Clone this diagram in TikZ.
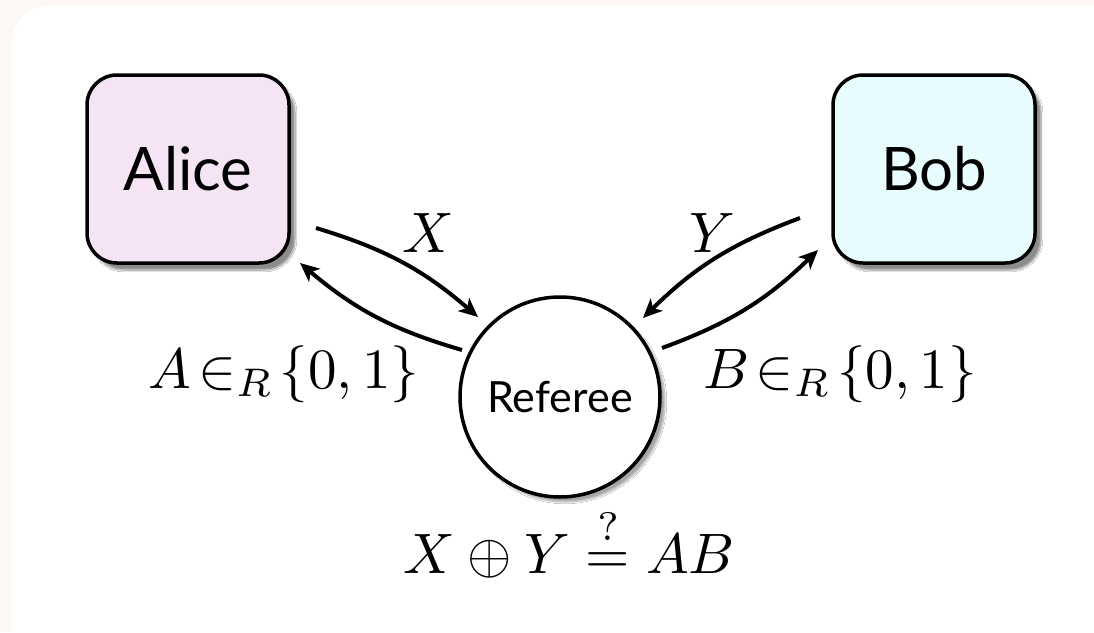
\documentclass[tikz,border=0pt]{standalone}
\usepackage{fontspec}
\newfontfamily\gill{Lato}
\usetikzlibrary{arrows.meta,shadows.blur}
\definecolor{alicefill}{HTML}{F5E4F4}
\definecolor{bobfill}{HTML}{E8FBFD}
\definecolor{outerbg}{HTML}{FDF7F6}
\begin{document}
\begin{tikzpicture}[x=1pt,y=-1pt,
  player/.style={draw=black, line width=3.5pt, rounded corners=30pt,
    minimum width=202pt, minimum height=188pt, inner sep=0pt,
    font=\gill\fontsize{60}{60}\selectfont,
    blur shadow={shadow xshift=6pt, shadow yshift=-7pt, shadow blur steps=8, shadow opacity=45}},
  ref/.style={draw=black, line width=3.5pt, circle, fill=white, minimum size=200pt, inner sep=0pt,
    font=\gill\fontsize{43}{43}\selectfont,
    blur shadow={shadow xshift=5pt, shadow yshift=-5pt, shadow blur steps=8, shadow opacity=35}},
  conn/.style={line width=4pt, -{Stealth[length=19pt,width=17pt,inset=5pt]}},
  lab/.style={scale=5.7, anchor=base, inner sep=0pt}
]
\useasboundingbox (0,0) rectangle (1094,632);
\fill[outerbg] (0,0) rectangle (1094,632);
\fill[white, rounded corners=38pt] (12,5) rectangle (1140,680);

\node[player, fill=alicefill] (alice) at (188,169) {Alice};
\node[player, fill=bobfill] (bob) at (934,169) {Bob};
\node[ref] (referee) at (560,397) {Referee};

\coordinate (xs) at (316,228);
\coordinate (xe) at (478,317);
\coordinate (as) at (462,350);
\coordinate (ae) at (300,263);
\coordinate (ys) at (800,218);
\coordinate (ye) at (643,318);
\coordinate (bs) at (662,348);
\coordinate (be) at (818,250);

\draw[conn] (xs) to[bend left=12] (xe);
\draw[conn] (as) to[bend left=12] (ae);
\draw[conn] (ys) to[bend right=12] (ye);
\draw[conn] (bs) to[bend right=12] (be);

\node[lab] (xlab) at (428,252) {$X$};
\node[lab] (ylab) at (712,252) {$Y$};
\node[lab] (alab) at (284,388) {$A\!\in_R\!\{0,1\}$};
\node[lab] (blab) at (840,388) {$B\!\in_R\!\{0,1\}$};
\node[lab] (test) at (569,573) {$X\oplus Y\stackrel{?}{=}AB$};
\end{tikzpicture}
\end{document}
